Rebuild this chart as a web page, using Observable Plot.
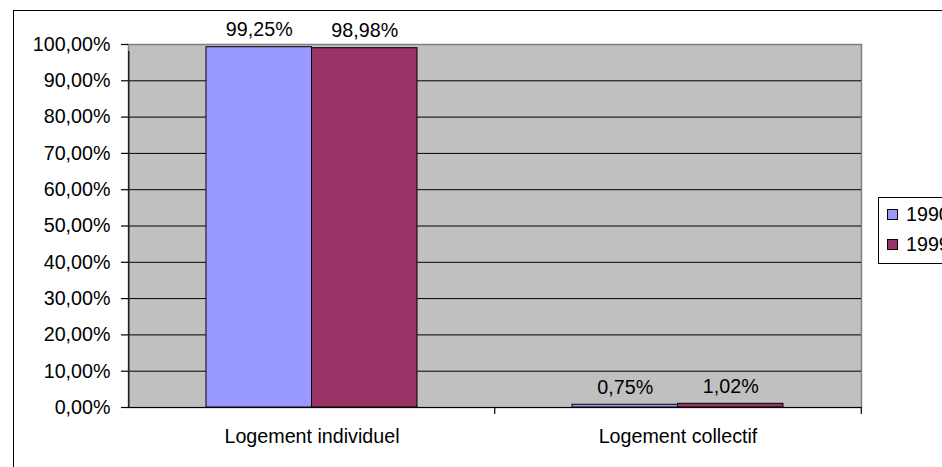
<!DOCTYPE html>
<html>
<head>
<meta charset="utf-8">
<script src="https://cdn.jsdelivr.net/npm/d3@7"></script>
<script src="https://cdn.jsdelivr.net/npm/@observablehq/plot@0.6"></script>
<style>
  html, body { margin: 0; padding: 0; background: #fff; overflow: hidden; }
  #wrap { position: relative; width: 942px; height: 467px; overflow: hidden; font-family: "Liberation Sans", Arial, sans-serif; }
  #border { position: absolute; left: 13px; top: 10px; width: 1000px; height: 1000px; border: 1.5px solid #000; box-sizing: border-box; }
  #chart { position: absolute; left: 0; top: 0; }
  #legend { position: absolute; left: 878px; top: 197px; width: 90px; height: 67px; border: 1px solid #000; background: #fff; box-sizing: border-box; font-size: 19.7px; color: #000; }
  .item { position: absolute; left: 8px; height: 22px; display: flex; align-items: center; white-space: nowrap; }
  .sw { width: 9px; height: 9px; border: 1px solid #000; margin-right: 8px; }
</style>
</head>
<body>
<div id="wrap">
  <div id="border"></div>
  <div id="chart"></div>
  <div id="legend"></div>
</div>
<script>
// ---- data ----
const categories = ["Logement individuel", "Logement collectif"];
const years = ["1990", "1999"];
const values1990 = [99.25, 0.75];
const values1999 = [98.98, 1.02];
const yTicks = [0, 10, 20, 30, 40, 50, 60, 70, 80, 90, 100];
const colors = ["#9999ff", "#993366"];

// ---- layout ----
const width = 942, height = 467;
const marginLeft = 128, marginRight = 81, marginTop = 44, marginBottom = 60;
const paddingInner = 0.4243, paddingOuter = 0.2121;
const plotW = width - marginLeft - marginRight;
const step = plotW / (categories.length - paddingInner + 2 * paddingOuter);
const bandwidth = step * (1 - paddingInner);
const half = bandwidth / 2;

const fmt = v => v.toFixed(2).replace(".", ",") + "%";

const rows1990 = categories.map((c, i) => ({cat: c, year: years[0], value: values1990[i]}));
const rows1999 = categories.map((c, i) => ({cat: c, year: years[1], value: values1999[i]}));

const chart = Plot.plot({
  width, height, marginLeft, marginRight, marginTop, marginBottom,
  style: {fontFamily: '"Liberation Sans", Arial, sans-serif', fontSize: "19.7px", color: "#000", background: "transparent", overflow: "visible"},
  x: {domain: categories, paddingInner, paddingOuter, axis: null, label: null},
  y: {domain: [0, 100], axis: null, label: null},
  marks: [
    Plot.frame({fill: "#c0c0c0", stroke: "#808080", strokeWidth: 1.5}),
    Plot.gridY(yTicks.filter(t => t > 0 && t < 100), {stroke: "#000", strokeOpacity: 1}),
    Plot.barY(rows1990, {x: "cat", y: "value", fill: colors[0], stroke: "#000", strokeWidth: 1, insetRight: half}),
    Plot.barY(rows1999, {x: "cat", y: "value", fill: colors[1], stroke: "#000", strokeWidth: 1, insetLeft: half}),
    Plot.ruleY([0], {stroke: "#000", strokeWidth: 1.2}),
    Plot.ruleX([categories[0]], {x: d => d, y1: () => 0, y2: () => 100, dx: -step / 2, insetBottom: -7, stroke: "#222", strokeWidth: 1.5}),
    Plot.ruleX([categories[1]], {x: d => d, y1: () => 0, y2: () => 0, dx: -step / 2, insetBottom: -7, stroke: "#000", strokeWidth: 1.2}),
    Plot.ruleX([categories[1]], {x: d => d, y1: () => 0, y2: () => 0, dx: step / 2, insetBottom: -7, stroke: "#000", strokeWidth: 1.2}),
    Plot.axisY(yTicks, {tickSize: 7, tickPadding: 11, tickFormat: fmt, stroke: "#000", fill: "#000", strokeWidth: 1.2, fontVariant: "normal", label: null}),
    Plot.axisX({tickSize: 0, tickPadding: 21, fill: "#000", label: null}),
    Plot.text(rows1990, {x: "cat", y: "value", text: d => fmt(d.value), dx: -half / 2, dy: -11, lineAnchor: "bottom", fill: "#000"}),
    Plot.text(rows1999, {x: "cat", y: "value", text: d => fmt(d.value), dx: half / 2, dy: -11, lineAnchor: "bottom", fill: "#000"})
  ]
});
document.getElementById("chart").appendChild(chart);

// ---- legend ----
const legend = document.getElementById("legend");
years.forEach((y, i) => {
  const item = document.createElement("div");
  item.className = "item";
  item.style.top = (5 + i * 30) + "px";
  const sw = document.createElement("span");
  sw.className = "sw";
  sw.style.background = colors[i];
  const t = document.createElement("span");
  t.textContent = y;
  item.appendChild(sw);
  item.appendChild(t);
  legend.appendChild(item);
});
</script>
</body>
</html>
